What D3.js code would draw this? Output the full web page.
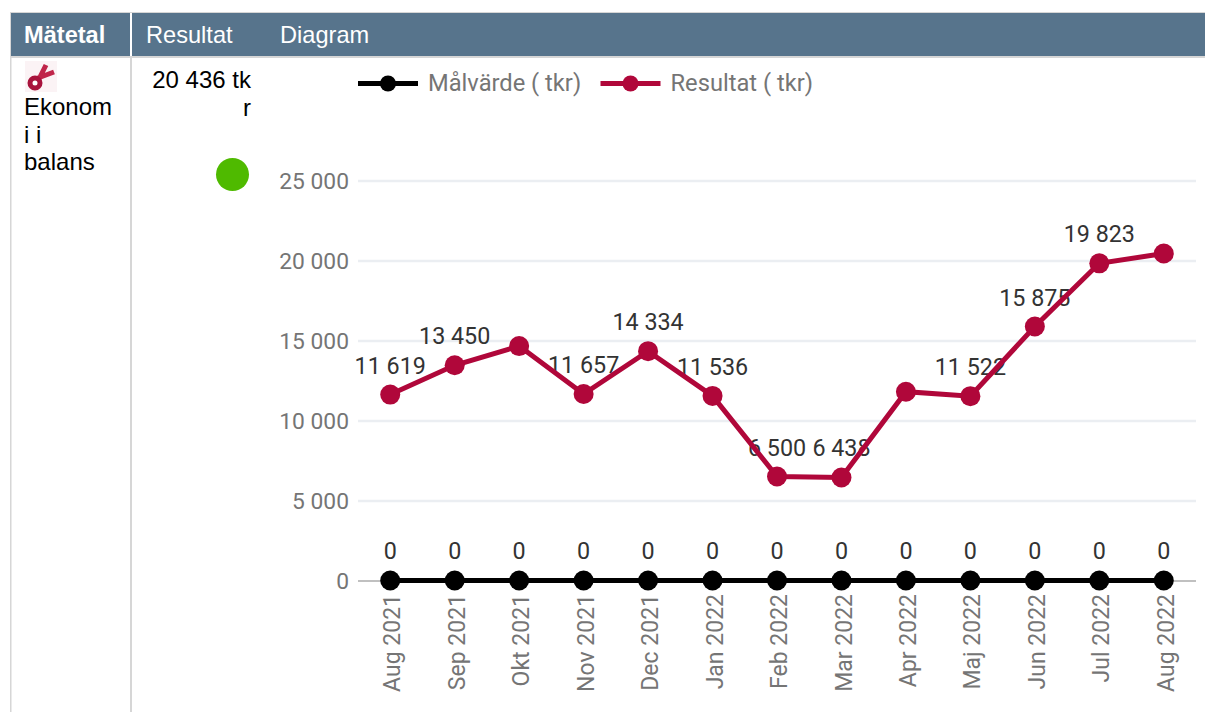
<!DOCTYPE html>
<meta charset="utf-8">
<style>
    html, body { margin: 0; padding: 0; background: #fff; overflow: hidden; }
    svg { display: block; }
    .cell { font-family: "Liberation Sans", Arial, sans-serif; font-size: 24px; fill: #000; }
    .head { font-family: "Liberation Sans", Arial, sans-serif; font-size: 23.6px; fill: #fff; }
    .chart text { font-family: Roboto, sans-serif; }
    .yAxis text { font-size: 22.8px; fill: #757575; }
    .xAxis text { font-size: 23px; fill: #757575; }
    .yAxis path, .xAxis path { display: none; }
    .label { font-size: 23.3px; fill: #333; text-anchor: middle; }
    .legend { font-size: 23.7px; fill: #757575; }
</style>
<svg width="1205" height="712"></svg>
<script src="https://d3js.org/d3.v7.min.js"></script>
<script>

    var months = ["Aug 2021", "Sep 2021", "Okt 2021", "Nov 2021", "Dec 2021", "Jan 2022", "Feb 2022",
        "Mar 2022", "Apr 2022", "Maj 2022", "Jun 2022", "Jul 2022", "Aug 2022"];
    var resultat = [11619, 13450, 14650, 11657, 14334, 11536, 6500, 6438, 11800, 11522, 15875, 19823, 20436];
    var malvarde = [0, 0, 0, 0, 0, 0, 0, 0, 0, 0, 0, 0, 0];
    // the picture has no value label on these months of the Resultat line
    var hiddenLabels = ["Okt 2021", "Apr 2022", "Aug 2022"];
    var yTicks = [0, 5000, 10000, 15000, 20000, 25000];
    var headers = ["Mätetal", "Resultat", "Diagram"];
    var seriesNames = ["Målvärde ( tkr)", "Resultat ( tkr)"];

    var blue = "#57748c", rule = "#d6d6d6", black = "#000", red = "#b0073a";

    var svg = d3.select("svg");

    // table frame
    var table = svg.append("g");
    table.append("rect").attr("x", 10).attr("y", 12).attr("width", 1195).attr("height", 46).attr("fill", rule);
    table.append("rect").attr("x", 11).attr("y", 13).attr("width", 1194).attr("height", 43).attr("fill", blue);
    table.append("rect").attr("x", 130).attr("y", 13).attr("width", 2).attr("height", 43).attr("fill", "#fff");
    table.append("rect").attr("x", 10).attr("y", 56).attr("width", 1.5).attr("height", 656).attr("fill", rule);
    table.append("rect").attr("x", 130).attr("y", 56).attr("width", 2).attr("height", 656).attr("fill", rule);

    table.append("text").attr("class", "head").attr("x", 24).attr("y", 43).attr("font-weight", "bold").text(headers[0]);
    table.append("text").attr("class", "head").attr("x", 146).attr("y", 43).text(headers[1]);
    table.append("text").attr("class", "head").attr("x", 280).attr("y", 43).text(headers[2]);

    // first column
    var icon = table.append("g");
    icon.append("rect").attr("x", 25).attr("y", 61).attr("width", 32).attr("height", 31).attr("fill", "#fbf3f5");
    icon.append("path").attr("d", "M46 65 L39 79 M38 78 L54 72")
        .attr("fill", "none").attr("stroke", "#c0254a").attr("stroke-width", 5);
    icon.append("circle").attr("cx", 35).attr("cy", 83).attr("r", 5)
        .attr("fill", "#fff").attr("stroke", "#a8133c").attr("stroke-width", 5);
    ["Ekonom", "i i", "balans"].forEach(function (t, i) {
        table.append("text").attr("class", "cell").attr("x", 24).attr("y", 115 + i * 27.7).text(t);
    });

    // second column
    table.append("text").attr("class", "cell").attr("x", 251).attr("y", 88).attr("text-anchor", "end").text("20 436 tk");
    table.append("text").attr("class", "cell").attr("x", 251).attr("y", 116).attr("text-anchor", "end").text("r");
    table.append("circle").attr("cx", 232.5).attr("cy", 174.5).attr("r", 16.5).attr("fill", "#4fba00");

    // chart
    var chart = svg.append("g").attr("class", "chart");

    var x = d3.scaleBand().domain(months).range([358, 1196]);
    var y = d3.scaleLinear().domain([0, 25000]).range([580.5, 180.5]);
    var fmt = function (d) { return String(d).replace(/\B(?=(\d{3})+$)/g, " "); };
    var cx = function (m) { return x(m) + x.bandwidth() / 2; };

    var yAxis = chart.append("g").attr("class", "yAxis")
        .attr("transform", "translate(358,0)")
        .call(d3.axisLeft(y).tickValues(yTicks).tickFormat(fmt).tickSize(-838).tickPadding(9));
    yAxis.selectAll("line").attr("stroke", "#ebeef2").attr("stroke-width", 2.5);
    yAxis.selectAll("text").attr("dy", "0.37em");
    yAxis.selectAll(".tick").filter(function (d) { return d === 0; }).select("line")
        .attr("stroke", "#c0c0c0").attr("stroke-width", 2);

    var xAxis = chart.append("g").attr("class", "xAxis")
        .attr("transform", "translate(0,581)")
        .call(d3.axisBottom(x).tickSize(0));
    xAxis.selectAll("text")
        .attr("text-anchor", "end")
        .attr("transform", "translate(2,13) rotate(-90)")
        .attr("x", 0).attr("y", 0).attr("dy", "0.35em");

    // value labels sit under the lines
    chart.append("g").selectAll("text").data(months.filter(function (m) { return hiddenLabels.indexOf(m) < 0; }))
        .join("text").attr("class", "label")
        .attr("x", cx)
        .attr("y", function (m) { return y(resultat[months.indexOf(m)]) - 21; })
        .text(function (m) { return fmt(resultat[months.indexOf(m)]); });
    chart.append("g").selectAll("text").data(months)
        .join("text").attr("class", "label")
        .attr("x", cx)
        .attr("y", y(0) - 21.5)
        .text(function (m) { return malvarde[months.indexOf(m)]; });

    function drawSeries(values, color) {
        var line = d3.line().x(function (d, i) { return cx(months[i]); }).y(function (d) { return y(d); });
        chart.append("path").datum(values).attr("d", line)
            .attr("fill", "none").attr("stroke", color).attr("stroke-width", 5);
        chart.append("g").selectAll("circle").data(values).join("circle")
            .attr("cx", function (d, i) { return cx(months[i]); })
            .attr("cy", function (d) { return y(d); })
            .attr("r", 10).attr("fill", color);
    }
    drawSeries(resultat, red);
    drawSeries(malvarde, black);

    // legend
    var legend = chart.append("g");
    [[358, black, seriesNames[0]], [600.5, red, seriesNames[1]]].forEach(function (e) {
        legend.append("line").attr("x1", e[0]).attr("x2", e[0] + 60).attr("y1", 83.5).attr("y2", 83.5)
            .attr("stroke", e[1]).attr("stroke-width", 5);
        legend.append("circle").attr("cx", e[0] + 30).attr("cy", 83.5).attr("r", 8).attr("fill", e[1]);
        legend.append("text").attr("class", "legend").attr("x", e[0] + 70).attr("y", 91).text(e[2]);
    });

</script>
